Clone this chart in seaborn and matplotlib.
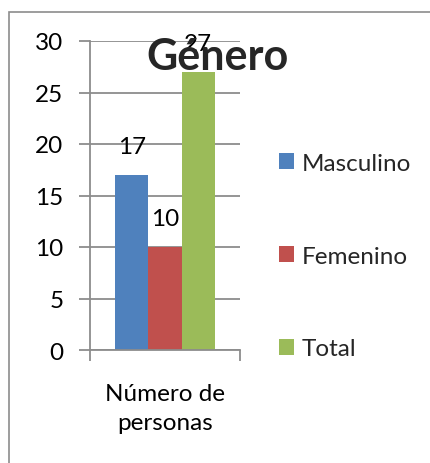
import pandas as pd
import matplotlib.pyplot as plt
import seaborn as sns
from matplotlib.patches import Rectangle

# datos del grafico
series = ['Masculino', 'Femenino', 'Total']
valores = [17, 10, 27]
categoria = 'Número de\npersonas'
colores = ['#4F81BD', '#C0504D', '#9BBB59']
yticks = [0, 5, 10, 15, 20, 25, 30]
titulo = 'Género'

df = pd.DataFrame({
    'Categoria': [categoria] * len(series),
    'Serie': series,
    'Valor': valores,
})

sns.set_theme(style='white')
plt.rcParams['font.family'] = ['Lato', 'DejaVu Sans']

gris = '#8c8c8c'
W, H = 431, 464
fs = 17.5
fig = plt.figure(figsize=(W / 100, H / 100), dpi=100)
ax = fig.add_axes([90 / W, 1 - 351 / H, 150 / W, 309 / H])

sns.barplot(data=df, x='Categoria', y='Valor', hue='Serie', palette=colores,
            width=0.667, saturation=1, linewidth=0, ax=ax, legend=True)

ax.set_xlim(-0.5, 0.5)
ax.set_ylim(0, 30)
ax.set_yticks(yticks)
ax.set_xlabel('')
ax.set_ylabel('')

# etiquetas de datos
for c in ax.containers:
    ax.bar_label(c, padding=13, fontsize=fs, color='black')

# ejes y cuadricula estilo Excel
ax.yaxis.grid(True, color=gris, lw=1.3)
ax.set_axisbelow(True)
for s in ['top', 'right']:
    ax.spines[s].set_visible(False)
for s in ['left', 'bottom']:
    ax.spines[s].set_color(gris)
    ax.spines[s].set_linewidth(1.3)

ax.tick_params(axis='y', left=True, length=8, width=1.3, color=gris,
               direction='out', labelsize=fs, pad=11, labelcolor='black')
ax.set_xticks([-0.5, 0.5], minor=True)
ax.tick_params(axis='x', which='minor', bottom=True, length=8, width=1.3,
               color=gris, direction='out')
ax.tick_params(axis='x', which='major', bottom=True, length=0,
               labelsize=fs, pad=24, labelcolor='black')
for lbl in ax.get_xticklabels():
    lbl.set_linespacing(1.45)

# leyenda a la derecha
handles, labels = ax.get_legend_handles_labels()
ax.legend(handles, labels, loc='center left',
          bbox_to_anchor=(279 / W, 1 - 257 / H), bbox_transform=fig.transFigure,
          frameon=False, fontsize=fs, labelspacing=2.95, handlelength=0.62,
          handleheight=0.62, handletextpad=0.3, borderpad=0, borderaxespad=0)

fig.text(217 / W, 1 - 57 / H, titulo, ha='center', va='center',
         fontsize=31, fontweight='bold')

# borde del grafico
fig.patches.append(Rectangle((9 / W, -0.1), 1, 1 - 13 / H + 0.1,
                             transform=fig.transFigure, fill=False,
                             edgecolor=gris, lw=1.2))

fig.savefig('out.png', dpi=100)
